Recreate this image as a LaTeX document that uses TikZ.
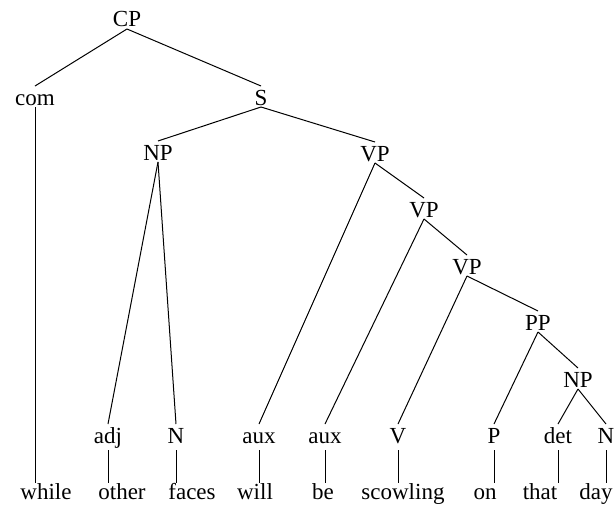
\documentclass[tikz,border=0pt]{standalone}
\usepackage{fontspec}
\setmainfont{Liberation Serif}
\begin{document}
\begin{tikzpicture}[x=1pt, y=-1pt, line width=1pt,
  cat/.style={anchor=base, inner sep=2pt, outer sep=0pt, text height=17pt, text depth=0pt, font=\fontsize{23}{27}\selectfont},
  pre/.style={cat, text depth=5pt},
  word/.style={cat, text height=14pt}]
  \useasboundingbox (0,0) rectangle (614,506);
  % Nodes
  \node (cp) [cat] at (127, 27) {CP};
  \node (com) [cat] at (35, 105) {com};
  \node (s) [cat] at (261, 105) {S};
  \node (np-0) [cat] at (158, 160) {NP};
  \node (vp-0) [cat] at (375, 161) {VP};
  \node (vp-1) [cat] at (424, 217) {VP};
  \node (vp-2) [cat] at (467, 274) {VP};
  \node (pp) [cat] at (538, 330) {PP};
  \node (np-1) [cat] at (578, 387) {NP};
  \node (adj) [pre] at (108, 443) {adj};
  \node (n-0) [pre] at (176, 443) {N};
  \node (aux-0) [pre] at (259, 443) {aux};
  \node (aux-1) [pre] at (325, 443) {aux};
  \node (v) [pre] at (398, 443) {V};
  \node (p) [pre] at (494, 443) {P};
  \node (det) [pre] at (558, 443) {det};
  \node (n-1) [pre] at (606, 443) {N};
  \node (w-while) [word] at (46, 499) {while};
  \node (w-other) [word] at (122, 499) {other};
  \node (w-faces) [word] at (192, 499) {faces};
  \node (w-will) [word] at (255, 499) {will};
  \node (w-be) [word] at (323, 499) {be};
  \node (w-scowling) [word] at (403, 499) {scowling};
  \node (w-on) [word] at (485, 499) {on};
  \node (w-that) [word] at (540, 499) {that};
  \node (w-day) [word] at (596, 499) {day};
  % Branches
  \draw (cp.south) -- (com.north);
  \draw (cp.south) -- (s.north);
  \draw (s.south) -- (np-0.north);
  \draw (s.south) -- (vp-0.north);
  \draw (np-0.south) -- (adj.north);
  \draw (np-0.south) -- (n-0.north);
  \draw (vp-0.south) -- (aux-0.north);
  \draw (vp-0.south) -- (vp-1.north);
  \draw (vp-1.south) -- (aux-1.north);
  \draw (vp-1.south) -- (vp-2.north);
  \draw (vp-2.south) -- (v.north);
  \draw (vp-2.south) -- (pp.north);
  \draw (pp.south) -- (p.north);
  \draw (pp.south) -- (np-1.north);
  \draw (np-1.south) -- (det.north);
  \draw (np-1.south) -- (n-1.north);
  % Words
  \draw (com.south) -- (com.south |- w-while.north);
  \draw (adj.south) -- (adj.south |- w-other.north);
  \draw (n-0.south) -- (n-0.south |- w-faces.north);
  \draw (aux-0.south) -- (aux-0.south |- w-will.north);
  \draw (aux-1.south) -- (aux-1.south |- w-be.north);
  \draw (v.south) -- (v.south |- w-scowling.north);
  \draw (p.south) -- (p.south |- w-on.north);
  \draw (det.south) -- (det.south |- w-that.north);
  \draw (n-1.south) -- (n-1.south |- w-day.north);
\end{tikzpicture}
\end{document}
